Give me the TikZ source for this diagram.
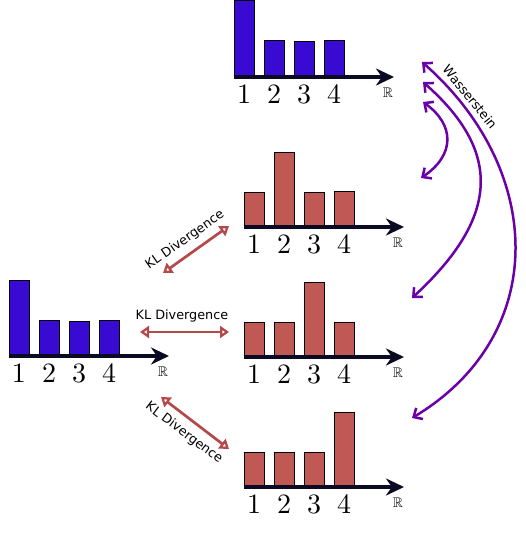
\documentclass[tikz,border=0pt]{standalone}
\usepackage{amssymb}
\usepackage{graphicx}
\usepackage{fontspec}
\newfontfamily\lblfont{DejaVu Sans}
\usetikzlibrary{arrows.meta}
\definecolor{barblue}{RGB}{56,10,210}
\definecolor{barred}{RGB}{192,88,84}
\definecolor{klred}{RGB}{181,72,74}
\definecolor{wpurple}{RGB}{106,0,168}
\definecolor{axisblack}{RGB}{10,10,35}
\tikzset{
  bar/.style={draw=black, line width=0.8pt},
  axisline/.style={draw=axisblack, line width=4.5pt, -{Stealth[length=18pt,width=17pt]}},
  digit/.style={font=\fontsize{10}{12}\selectfont, inner sep=0pt},
  reals/.style={font=\fontsize{14}{16}\selectfont, inner sep=0pt},
  klarrow/.style={draw=klred, line width=2.7pt, {Triangle[open,length=9pt,width=12pt]}-{Triangle[open,length=9pt,width=12pt]}},
  warrow/.style={draw=wpurple, line width=2.5pt, {Straight Barb[length=7pt,width=13pt]}-{Straight Barb[length=7pt,width=13pt]}},
  lbl/.style={font=\lblfont\fontsize{12.8}{14}\selectfont, inner sep=1pt},
}
\newcommand\myhist[5]{%
  \foreach \h [count=\i] in {#5} {
    \path[bar, fill=#4] ({#2+30*(\i-1)},#3) rectangle ++(20,-\h);
    \node[digit] (#1-\i) at ({#2+10+30*(\i-1)},{#3+17}) {\scalebox{2.8}{\i}};
  }
  \coordinate (#1-o) at (#2,#3);
  \coordinate (#1-e) at ({#2+160},#3);
  \draw[axisline] (#1-o) -- (#1-e);
  \node[reals] (#1-r) at ({#2+154},{#3+16}) {$\mathbb{R}$};
}
\begin{document}
\begin{tikzpicture}[x=1pt,y=-1pt]
\useasboundingbox (0,0) rectangle (526,545);
\myhist{top}{234}{77}{barblue}{77,37,36,37}
\myhist{left}{9}{356}{barblue}{76,36,35,36}
\myhist{ra}{244}{227}{barred}{35,75,35,36}
\myhist{rb}{244}{357}{barred}{35,35,75,35}
\myhist{rc}{244}{487}{barred}{35,35,35,75}
% Wasserstein arrows
\coordinate (w1a) at (422,62);
\coordinate (w1b) at (412,418);
\coordinate (w2a) at (423,82);
\coordinate (w2b) at (412,298);
\coordinate (w3a) at (423,102);
\coordinate (w3b) at (421,178);
\draw[warrow] (w1a) .. controls (545,170) and (550,335) .. (w1b);
\draw[warrow] (w2a) .. controls (500,150) and (502,215) .. (w2b);
\draw[warrow] (w3a) .. controls (455,125) and (455,155) .. (w3b);
\node[lbl, rotate=-51] (ws) at (470,97) {Wasserstein};
% KL arrows
\coordinate (kl1a) at (163,273);
\coordinate (kl1b) at (229,226);
\coordinate (kl2a) at (140,332);
\coordinate (kl2b) at (229,332);
\coordinate (kl3a) at (161,397);
\coordinate (kl3b) at (229,449);
\draw[klarrow] (kl1a) -- (kl1b);
\draw[klarrow] (kl2a) -- (kl2b);
\draw[klarrow] (kl3a) -- (kl3b);
\node[lbl, rotate=35] (kl1t) at (185,240) {KL Divergence};
\node[lbl] (kl2t) at (182,316) {KL Divergence};
\node[lbl, rotate=-37] (kl3t) at (184,433) {KL Divergence};
\end{tikzpicture}
\end{document}
